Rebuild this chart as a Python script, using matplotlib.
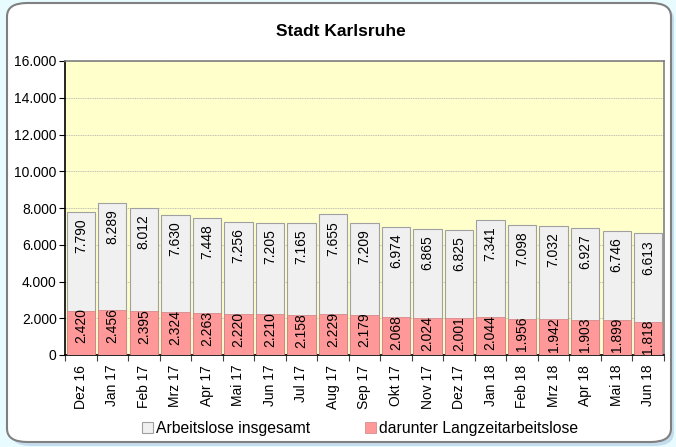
'''
Arbeitslose in der Stadt Karlsruhe, Dez 2016 bis Jun 2018
'''
import matplotlib
matplotlib.use("Agg")
import matplotlib.pyplot as plt
from matplotlib.patches import FancyBboxPatch
from matplotlib.ticker import FuncFormatter

MONTHS = ["Dez 16", "Jan 17", "Feb 17", "Mrz 17", "Apr 17", "Mai 17", "Jun 17",
          "Jul 17", "Aug 17", "Sep 17", "Okt 17", "Nov 17", "Dez 17", "Jan 18",
          "Feb 18", "Mrz 18", "Apr 18", "Mai 18", "Jun 18"]
TOTAL = [7790, 8289, 8012, 7630, 7448, 7256, 7205, 7165, 7655, 7209,
         6974, 6865, 6825, 7341, 7098, 7032, 6927, 6746, 6613]
LONG_TERM = [2420, 2456, 2395, 2324, 2263, 2220, 2210, 2158, 2229, 2179,
             2068, 2024, 2001, 2044, 1956, 1942, 1903, 1899, 1818]

plt.rcParams['font.family'] = ['Liberation Sans', 'DejaVu Sans']


def de_num(v):
    '''German thousands separator'''
    return f"{int(v):,}".replace(",", ".")


fig = plt.figure(figsize=(6.76, 4.47), dpi=100, facecolor="#E8FBFF")

# white rounded panel with shadow
shadow = FancyBboxPatch((11 / 676, 1 - 446 / 447), 663 / 676, 440 / 447,
                        boxstyle="round,pad=0,rounding_size=0.03",
                        transform=fig.transFigure, facecolor="#C4DDEE",
                        edgecolor="none", zorder=-2)
panel = FancyBboxPatch((7 / 676, 1 - 442 / 447), 664 / 676, 439 / 447,
                       boxstyle="round,pad=0,rounding_size=0.03",
                       transform=fig.transFigure, facecolor="white",
                       edgecolor="#808080", linewidth=1.5, zorder=-1)
fig.patches.extend([shadow, panel])

ax = fig.add_axes([65 / 676, 1 - 355 / 447, 599 / 676, 294 / 447])
ax.set_zorder(2)
ax.set_facecolor("#FFFFCC")

x = range(len(MONTHS))
ax.bar(x, TOTAL, width=0.9, color="#F0F0F0", edgecolor="#A0A0A0",
       linewidth=0.8, label="Arbeitslose insgesamt", zorder=2)
ax.bar(x, LONG_TERM, width=0.9, color="#FF9999", edgecolor="#D08080",
       linewidth=0.5, label="darunter Langzeitarbeitslose", zorder=3)

for i in x:
    ax.text(i, TOTAL[i] - 350, de_num(TOTAL[i]), rotation=90, ha="center",
            va="top", fontsize=10, zorder=4)
    ax.text(i, LONG_TERM[i] + 120, de_num(LONG_TERM[i]), rotation=90,
            ha="center", va="top", fontsize=10, zorder=4)

ax.set_xlim(-0.5, len(MONTHS) - 0.5)
ax.set_ylim(0, 16000)
ax.set_yticks(range(0, 16001, 2000))
ax.yaxis.set_major_formatter(FuncFormatter(lambda v, p: de_num(v)))
ax.grid(axis="y", color="#A8A8A8", linestyle=(0, (1.5, 1)), linewidth=0.5,
        zorder=1)

ax.set_xticks([i - 0.5 for i in range(len(MONTHS) + 1)], minor=False)
ax.set_xticklabels([])
ax.set_xticks(list(x), minor=True)
ax.set_xticklabels(MONTHS, minor=True, rotation=90, fontsize=10)
ax.tick_params(axis="x", which="minor", length=0, pad=7)
ax.tick_params(axis="x", which="major", length=4, color="#404040")
ax.tick_params(axis="y", length=4, labelsize=10, pad=2)

for side in ["top", "right"]:
    ax.spines[side].set_color("#808080")
    ax.spines[side].set_linewidth(1.2)
for side in ["left", "bottom"]:
    ax.spines[side].set_color("black")
    ax.spines[side].set_linewidth(1.2)

fig.text(341 / 676, 1 - 32 / 447, "Stadt Karlsruhe", ha="center",
         va="center", fontsize=12.5, fontweight="bold")

fig.legend(loc="center", bbox_to_anchor=(360 / 676, 1 - 428 / 447), ncol=2,
           frameon=False, fontsize=11.3, handlelength=0.7, handleheight=0.7,
           handletextpad=0.2, columnspacing=3.5)

plt.savefig("out.png", dpi=100, facecolor=fig.get_facecolor())
